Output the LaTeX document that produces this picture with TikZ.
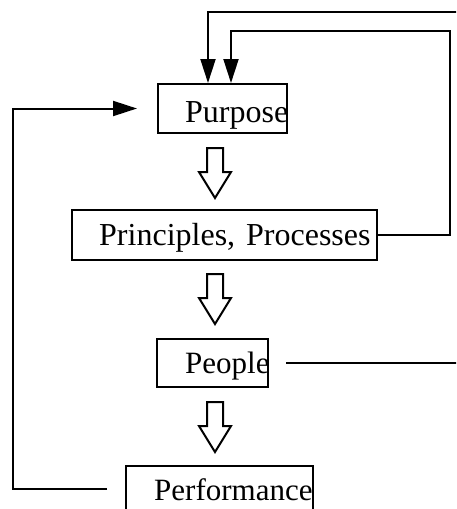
\documentclass[tikz,border=0pt]{standalone}
\usepackage{fontspec}
\setmainfont{Liberation Serif}
\usetikzlibrary{arrows.meta}
\begin{document}
\begin{tikzpicture}[x=1pt,y=-1pt,
  conn/.style={line width=2pt, draw=black},
  tip/.style={-{Triangle[length=24pt,width=15pt]}},
  box/.style={draw=black, line width=2pt, rectangle, inner sep=0pt},
  lbl/.style={inner sep=0pt, anchor=base west, font=\fontsize{32}{36}\selectfont},
  hollowdown/.pic={\draw[line width=2pt, line join=miter] (-8,0) -- (-8,24) -- (-16,24) -- (0,50) -- (16,24) -- (8,24) -- (8,0) -- cycle;}
]
\useasboundingbox (0,0) rectangle (456,509);
\clip (0,0) rectangle (456,509);
% boxes
\node[box, minimum width=129pt, minimum height=49pt] (purpose) at (222.5,108.5) {};
\node[box, minimum width=305pt, minimum height=50pt] (principles) at (224.5,235) {};
\node[box, minimum width=111pt, minimum height=48pt] (people) at (212.5,363) {};
\node[box, minimum width=187pt, minimum height=46pt] (performance) at (219.5,489) {};
% texts
\node[lbl] (tpurpose) at (185,122) {Purpose};
\node[lbl] (tprinciples) at (99,245) {Principles,\hspace{3pt} Processes};
\node[lbl, font=\fontsize{31}{36}\selectfont] (tpeople) at (185,373) {People};
\node[lbl, font=\fontsize{31}{36}\selectfont] (tperformance) at (154,500) {Performance};
% hollow arrows
\pic at (215,148) {hollowdown};
\pic at (215,274) {hollowdown};
\pic at (215,402) {hollowdown};
% free ends
\coordinate (rtop) at (458,12);
\coordinate (rpeople) at (458,363);
% feedback connectors
\draw[conn, tip] (rtop) -| ([xshift=-14.5pt]purpose.north);
\draw[conn, tip] (principles.east) -- (450,235) -- (450,31) -| ([xshift=8.5pt]purpose.north);
\draw[conn, tip, shorten <=18pt, shorten >=20pt] (performance.west) -- (13,489) |- (purpose.west);
\draw[conn, shorten <=17pt] (people.east) -- (rpeople);
\end{tikzpicture}
\end{document}
